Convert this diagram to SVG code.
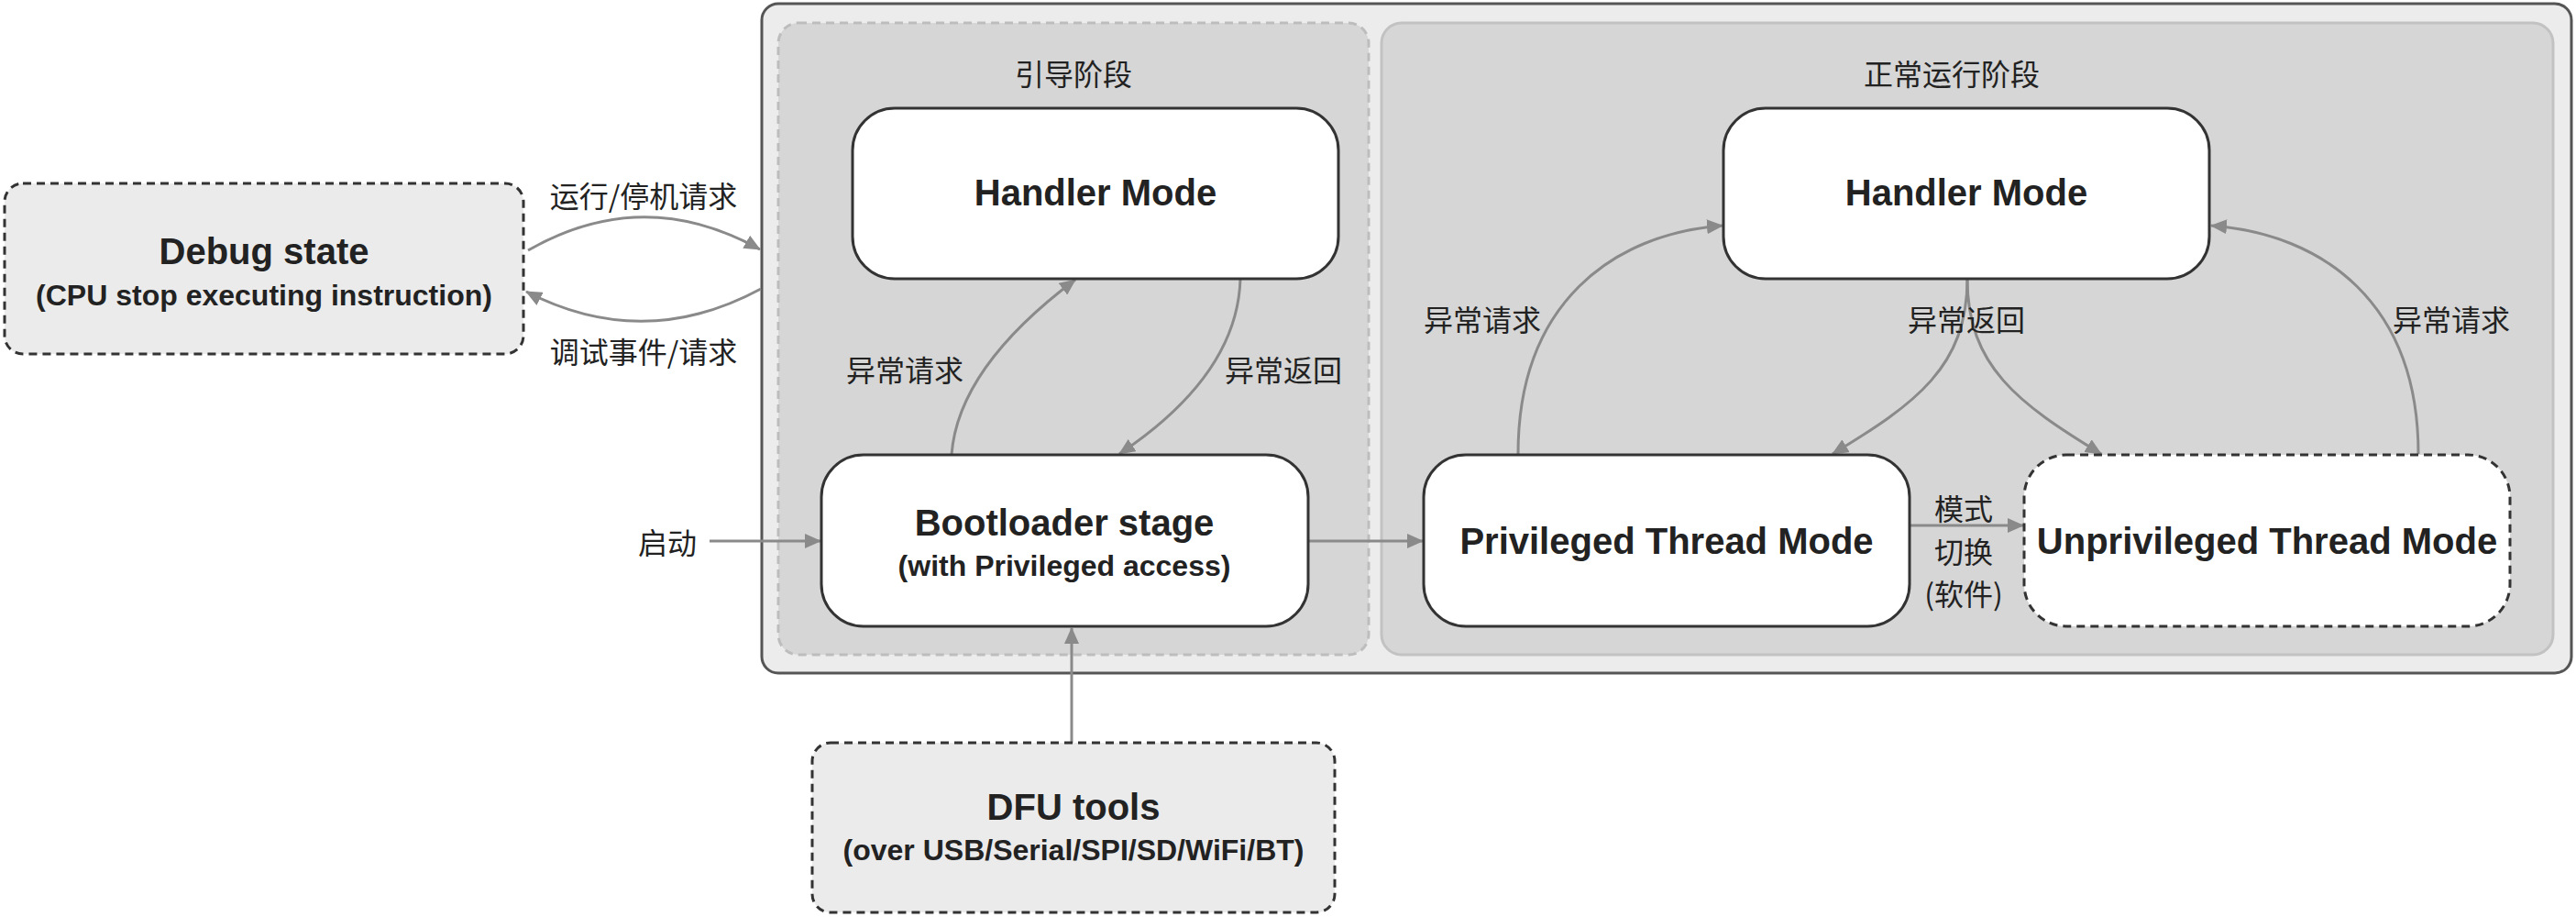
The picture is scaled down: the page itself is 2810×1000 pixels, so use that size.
<svg xmlns="http://www.w3.org/2000/svg" width="2810" height="1000" viewBox="0 0 2810 1000">
<defs>
<marker id="arr" viewBox="0 0 18 16" refX="17" refY="8" markerWidth="18" markerHeight="16" markerUnits="userSpaceOnUse" orient="auto"><path d="M0,0 L18,8 L0,16 z" fill="#8a8a8a"/></marker>
<style>
.edge{fill:none;stroke:#8a8a8a;stroke-width:3;marker-end:url(#arr)}
.node{fill:#fff;stroke:#333;stroke-width:3}
.dnode{fill:#fff;stroke:#333;stroke-width:3;stroke-dasharray:9 6}
.ext{fill:#ebebeb;stroke:#333;stroke-width:3;stroke-dasharray:9 6}
.t{font-family:"Liberation Sans",Arial,sans-serif;font-weight:bold;fill:#222;text-anchor:middle}
.t40{font-size:40px}
.t32{font-size:32px}
.cn{font-family:"Noto Sans CJK SC","Noto Sans",sans-serif;font-size:32px;fill:#222;text-anchor:middle;dominant-baseline:central}
</style>
</defs>
<rect x="0" y="0" width="2810" height="1000" fill="#fff"/>
<g id="containers">
<rect id="outer" x="831" y="4" width="1974" height="730" rx="18" fill="#ececec" stroke="#555" stroke-width="3"/>
<g id="boot-stage">
<rect x="849" y="25" width="644" height="689" rx="22" fill="#d6d6d6" stroke="#bdbdbd" stroke-width="3" stroke-dasharray="9 6"/>
<text class="cn" x="1171" y="79">引导阶段</text>
</g>
<g id="normal-stage">
<rect x="1507" y="25" width="1278" height="689" rx="22" fill="#d6d6d6" stroke="#c2c2c2" stroke-width="3"/>
<text class="cn" x="2129" y="79">正常运行阶段</text>
</g>
</g>
<g id="connectors">
<path class="edge" d="M 576 273 Q 702 201 829 272"/>
<path class="edge" d="M 830 315 Q 702 384 574 318"/>
<path class="edge" d="M 774 590 L 895 590"/>
<path class="edge" d="M 1428 590 L 1552 590"/>
<path class="edge" d="M 1169 810 L 1169 685"/>
<path class="edge" d="M 1038 496 Q 1045 401 1173 305"/>
<path class="edge" d="M 1353 304 Q 1350 409 1221 495"/>
<path class="edge" d="M 1656 495 C 1656 330 1760 255 1879 246"/>
<path class="edge" d="M 2638 495 C 2638 330 2534 255 2412 246"/>
<path class="edge" d="M 2146 304 C 2146 400 2090 440 1999 495"/>
<path class="edge" d="M 2146 304 C 2146 400 2202 440 2292 495"/>
<path class="edge" d="M 2084 573 L 2207 573"/>
<text class="cn" x="702" y="212">运行/停机请求</text>
<text class="cn" x="702" y="382">调试事件/请求</text>
<text class="cn" x="728" y="590">启动</text>
<text class="cn" x="987" y="402">异常请求</text>
<text class="cn" x="1400" y="402">异常返回</text>
<text class="cn" x="1617" y="347">异常请求</text>
<text class="cn" x="2145" y="347">异常返回</text>
<text class="cn" x="2674" y="347">异常请求</text>
<text class="cn" x="2142" y="553">模式</text>
<text class="cn" x="2142" y="600">切换</text>
<text class="cn" x="2142" y="646">(软件)</text>
</g>
<g id="debug-state">
<rect class="ext" x="5" y="200" width="566" height="186" rx="20"/>
<text class="t t40" x="288" y="288">Debug state</text>
<text class="t t32" x="288" y="333">(CPU stop executing instruction)</text>
</g>
<g id="boot-handler">
<rect class="node" x="930" y="118" width="530" height="186" rx="46"/>
<text class="t t40" x="1195" y="224">Handler Mode</text>
</g>
<g id="bootloader">
<rect class="node" x="896" y="496" width="531" height="187" rx="46"/>
<text class="t t40" x="1161" y="584">Bootloader stage</text>
<text class="t t32" x="1161" y="628">(with Privileged access)</text>
</g>
<g id="dfu-tools">
<rect class="ext" x="886" y="810" width="570" height="185" rx="20"/>
<text class="t t40" x="1171" y="894">DFU tools</text>
<text class="t t32" x="1171" y="938">(over USB/Serial/SPI/SD/WiFi/BT)</text>
</g>
<g id="normal-handler">
<rect class="node" x="1880" y="118" width="530" height="186" rx="46"/>
<text class="t t40" x="2145" y="224">Handler Mode</text>
</g>
<g id="privileged-thread">
<rect class="node" x="1553" y="496" width="530" height="187" rx="46"/>
<text class="t t40" x="1818" y="604">Privileged Thread Mode</text>
</g>
<g id="unprivileged-thread">
<rect class="dnode" x="2208" y="496" width="530" height="187" rx="46"/>
<text class="t t40" x="2473" y="604">Unprivileged Thread Mode</text>
</g>
</svg>
